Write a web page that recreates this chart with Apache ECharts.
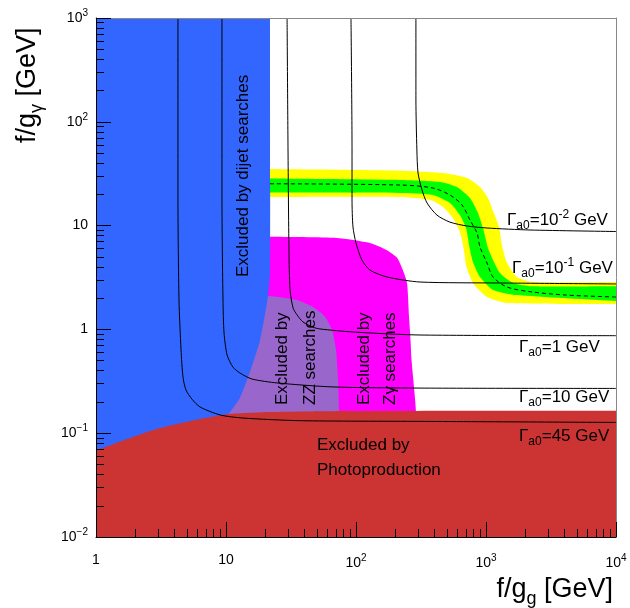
<!DOCTYPE html>
<html lang="en">
<head>
<meta charset="UTF-8">
<title>alp limits</title>
<script src="https://cdn.jsdelivr.net/npm/echarts@6/dist/echarts.min.js"></script>
</head>
<body style="margin:0">
<div id="chart" style="width:630px;height:608px;"></div>
<script>
// excluded regions, points are [f/g_g, f/g_gamma] in GeV
// (outer corners sit outside the axis range and are clipped)
var dijetX = [0.5, 21.8, 21.8, 21.8, 21.0, 18.3, 15.3, 12.8, 10.4, 9.0, 8.0, 0.5];
var dijetY = [2000, 2000, 1000, 3.7, 2.05, 0.79, 0.39, 0.22, 0.15, 0.107, 0.005, 0.005];
var photoX = [0.5, 1, 1.83, 3.11, 6.31, 10.7, 21.8, 90, 10000, 20000, 20000, 0.5];
var photoY = [0.06, 0.069, 0.09, 0.112, 0.137, 0.153, 0.16, 0.164, 0.165, 0.165, 0.005, 0.005];
var zgX = [15, 21.8, 71, 128, 173, 207, 230, 247, 256, 265, 265, 15];
var zgY = [7.8, 7.8, 7.6, 6.8, 5.8, 4.9, 3.7, 2.8, 1.3, 0.63, 0.05, 0.05];
var zzX = [10, 21, 35.2, 46.7, 57.8, 65.4, 70.2, 72.7, 74, 74, 10];
var zzY = [2.1, 2.1, 1.92, 1.64, 1.32, 0.99, 0.63, 0.33, 0.16, 0.05, 0.05];

// expected limit band (2 sigma yellow, 1 sigma green) and median
var yellowHiX = [15, 21.8, 218, 467, 714, 899, 1036, 1132, 1259, 1327, 1451, 1730, 2299, 10000, 20000];
var yellowHiY = [35.1, 35.1, 33.8, 32.1, 28.7, 23.5, 18.4, 13.8, 9.7, 6.5, 4.36, 3.2, 2.86, 2.86, 2.86];
var yellowLoX = [15, 21.8, 218, 371, 467, 557, 631, 677, 702, 794, 1018, 1451, 10000, 20000];
var yellowLoY = [18.9, 18.9, 18.9, 17.7, 15.1, 11.8, 8.67, 5.82, 4.17, 2.8, 2.05, 1.8, 1.76, 1.76];
var greenHiX = [15, 21.8, 218, 443, 598, 753, 867, 948, 1036, 1132, 1282, 1614, 2299, 10000, 20000];
var greenHiY = [28.4, 28.4, 27.5, 26.3, 23.5, 18.4, 13.2, 9.48, 6.08, 4.66, 3.49, 2.8, 2.6, 2.6, 2.6];
var greenLoX = [15, 21.8, 218, 391, 528, 631, 702, 753, 794, 899, 1132, 1730, 10000, 20000];
var greenLoY = [20.8, 20.8, 20.6, 19.7, 16.5, 12.6, 9.48, 5.82, 4.46, 3.2, 2.4, 2.14, 1.88, 1.88];
var medianX = [21.8, 218, 391, 528, 654, 753, 853, 899, 1018, 1132, 1451, 2299, 4200, 10000];
var medianY = [25.3, 24.6, 23.0, 19.7, 15.8, 11.3, 8.49, 6.22, 4.36, 3.2, 2.56, 2.29, 2.14, 2.05];

// width contours
var g001X = [289, 289, 294, 300, 322, 352, 420, 528, 714, 1018, 2178, 10000];
var g001Y = [1000, 162, 53.5, 32.1, 22.0, 16.5, 12.6, 10.8, 9.91, 9.48, 9.07, 8.77];
var g01X = [91.5, 93.2, 93.2, 94.8, 100, 111, 128, 173, 311, 1282, 10000];
var g01Y = [1000, 53.5, 17.7, 9.70, 6.80, 4.66, 3.73, 3.20, 2.86, 2.80, 2.74];
var g1X = [29.5, 30.0, 30.5, 31.1, 32.8, 35.2, 39.1, 46.7, 52.8, 94.8, 311, 10000];
var g1Y = [1000, 53.5, 5.82, 2.40, 1.61, 1.38, 1.18, 1.05, 1.01, 0.944, 0.883, 0.870];
var g10X = [9.31, 9.31, 9.48, 9.66, 10.2, 11.3, 12.8, 15.8, 24.7, 66.5, 311, 10000];
var g10Y = [1000, 17.7, 1.92, 0.922, 0.566, 0.434, 0.380, 0.333, 0.305, 0.279, 0.272, 0.270];
var g45X = [4.27, 4.27, 4.35, 4.51, 4.67, 4.92, 5.47, 6.31, 8.99, 13.5, 37.1, 311, 10000];
var g45Y = [1000, 17.7, 1.92, 0.634, 0.347, 0.261, 0.213, 0.179, 0.150, 0.140, 0.132, 0.130, 0.127];

function zip(xs, ys) {
    return xs.map(function (x, i) { return [x, ys[i]]; });
}

function band(hiX, hiY, loX, loY) {
    return zip(hiX, hiY).concat(zip(loX, loY).reverse());
}

function area(pts, color, z) {
    return {
        type: 'custom',
        z: z,
        silent: true,
        clip: true,
        data: [[10, 1]],
        renderItem: function (params, api) {
            var p = pts.map(function (d) { return api.coord(d); });
            return {
                type: 'polygon',
                shape: { points: p, smooth: 0.2 },
                style: { fill: color }
            };
        }
    };
}

function curve(xs, ys, dashed) {
    return {
        type: 'line',
        z: 8,
        silent: true,
        symbol: 'none',
        smooth: dashed ? 0.3 : 0.25,
        lineStyle: { color: '#000', width: 1, type: dashed ? [4, 3] : 'solid' },
        data: zip(xs, ys)
    };
}

function powLabel(v) {
    var e = Math.round(Math.log10(v));
    if (e === 0) return '{b|1}';
    if (e === 1) return '{b|10}';
    return '{b|10}{sup|' + (e < 0 ? '\u2212' + (-e) : e) + '}';
}

var tickRich = {
    b: { fontSize: 14, fontFamily: 'Liberation Sans', color: '#000' },
    sup: { fontSize: 10, fontFamily: 'Liberation Sans', color: '#000', padding: [0, 0, 10, 0] }
};

var txtRich = {
    m: { fontSize: 17, fontFamily: 'Liberation Sans', color: '#000' },
    sub: { fontSize: 12, fontFamily: 'Liberation Sans', color: '#000', padding: [12, 0, 0, 0] },
    sup: { fontSize: 12, fontFamily: 'Liberation Sans', color: '#000', padding: [0, 0, 11, 0] }
};

var titleRich = {
    m: { fontSize: 27, fontFamily: 'Liberation Sans', color: '#000' },
    s: { fontSize: 18, fontFamily: 'Liberation Sans', color: '#000', padding: [18, 0, 0, 0] }
};

function label(text, x, y, rotate) {
    return {
        type: 'text', x: x, y: y, z: 100, rotation: rotate ? Math.PI / 2 : 0,
        style: { text: text, rich: txtRich, align: 'left', verticalAlign: 'middle' }
    };
}

var chart = echarts.init(document.getElementById('chart'));
var axisCommon = {
    type: 'log',
    logBase: 10,
    z: 10,
    axisLine: { show: true, lineStyle: { color: '#000', width: 1 } },
    axisTick: { show: true, inside: true, length: 15, lineStyle: { color: '#000' } },
    minorTick: { show: true, splitNumber: 9, length: 8, lineStyle: { color: '#000' } },
    splitLine: { show: false },
    axisLabel: { formatter: powLabel, rich: tickRich }
};

chart.setOption({
    animation: false,
    backgroundColor: '#fff',
    grid: { left: 96, right: 14, top: 18, bottom: 71 },
    xAxis: [
        Object.assign({}, axisCommon, { min: 1, max: 10000, position: 'bottom',
            axisLabel: { formatter: powLabel, rich: tickRich, margin: 16 } }),
        { type: 'log', min: 1, max: 10000, position: 'top', z: 10,
            axisLine: { lineStyle: { color: '#888' } }, axisTick: { show: false },
            axisLabel: { show: false }, splitLine: { show: false } }
    ],
    yAxis: [
        Object.assign({}, axisCommon, { min: 0.01, max: 1000, position: 'left',
            axisLabel: { formatter: powLabel, rich: tickRich, margin: 8 } }),
        { type: 'log', min: 0.01, max: 1000, position: 'right', z: 10,
            axisLine: { show: true, lineStyle: { color: '#888' } }, axisTick: { show: false },
            axisLabel: { show: false }, splitLine: { show: false } }
    ],
    series: [
        area(zip(zgX, zgY), '#ff00ff', 1),
        area(zip(zzX, zzY), '#9966cc', 2),
        area(band(yellowHiX, yellowHiY, yellowLoX, yellowLoY), '#ffff00', 3),
        area(band(greenHiX, greenHiY, greenLoX, greenLoY), '#00ff00', 4),
        area(zip(dijetX, dijetY), '#3366ff', 5),
        area(zip(photoX, photoY), '#cc3333', 6),
        curve(medianX, medianY, true),
        curve(g001X, g001Y),
        curve(g01X, g01Y),
        curve(g1X, g1Y),
        curve(g10X, g10Y),
        curve(g45X, g45Y)
    ],
    graphic: [
        label('{m|Excluded by dijet searches}', 243, 277, true),
        label('{m|Excluded by}', 282, 405, true),
        label('{m|ZZ searches}', 310, 405, true),
        label('{m|Excluded by}', 364, 405, true),
        label('{m|Z\u03b3 searches}', 390, 405, true),
        label('{m|Excluded by}', 317, 445),
        label('{m|Photoproduction}', 317, 470),
        label('{m|\u0393}{sub|a0}{m|=10}{sup|-2}{m| GeV}', 507, 220),
        label('{m|\u0393}{sub|a0}{m|=10}{sup|-1}{m| GeV}', 512, 268),
        label('{m|\u0393}{sub|a0}{m|=1 GeV}', 519, 347),
        label('{m|\u0393}{sub|a0}{m|=10 GeV}', 519, 397),
        label('{m|\u0393}{sub|a0}{m|=45 GeV}', 519, 436),
        {
            type: 'text', x: 28, y: 143, rotation: Math.PI / 2, z: 100,
            style: { text: '{m|f/g}{s|\u03b3}{m| [GeV]}', rich: titleRich, align: 'left', verticalAlign: 'middle' }
        },
        {
            type: 'text', x: 613, y: 590, z: 100,
            style: { text: '{m|f/g}{s|g}{m| [GeV]}', rich: titleRich, align: 'right', verticalAlign: 'middle' }
        }
    ]
});
</script>
</body>
</html>
